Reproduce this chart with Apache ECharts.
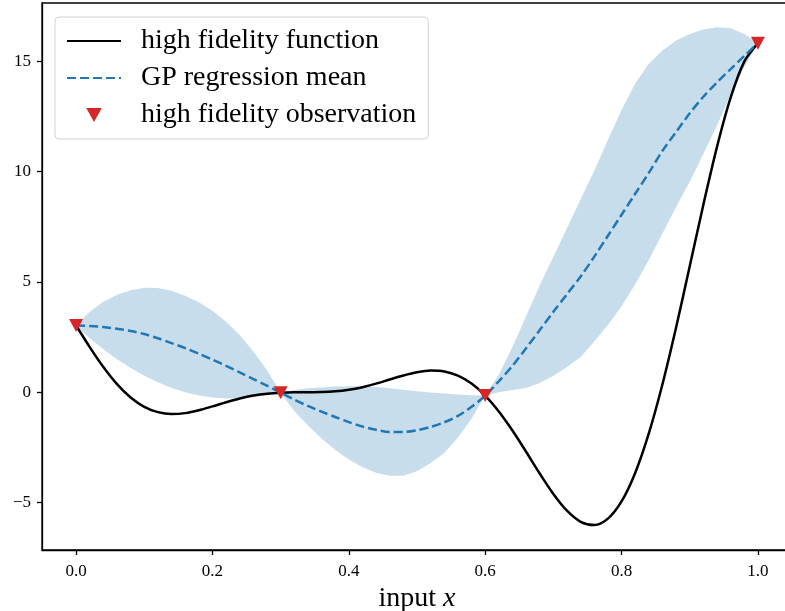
<!DOCTYPE html>
<html>
<head>
<meta charset="utf-8">
<script src="https://cdn.jsdelivr.net/npm/echarts@6/dist/echarts.min.js"></script>
<style>
html,body{margin:0;padding:0;background:#fff;}
#chart{width:785px;height:611px;}
</style>
</head>
<body>
<div id="chart"></div>
<script>
// x grid of the curves
const xs = [0.00,0.02,0.04,0.06,0.08,0.10,0.12,0.14,0.16,0.18,0.20,0.22,0.24,0.26,0.28,0.30,0.32,0.34,0.36,0.38,0.40,0.42,0.44,0.46,0.48,0.50,0.52,0.54,0.56,0.58,0.60,0.62,0.64,0.66,0.68,0.70,0.72,0.74,0.76,0.78,0.80,0.82,0.84,0.86,0.88,0.90,0.92,0.94,0.96,0.98,1.00];
// high fidelity function
const hfValues = [3.027,2.049,1.144,0.371,-0.234,-0.657,-0.900,-0.985,-0.944,-0.816,-0.640,-0.452,-0.282,-0.149,-0.061,-0.016,-0.001,0.000,0.008,0.042,0.115,0.233,0.392,0.577,0.761,0.909,0.984,0.945,0.757,0.396,-0.150,-0.870,-1.735,-2.697,-3.682,-4.606,-5.368,-5.871,-6.018,-5.729,-4.949,-3.656,-1.865,0.367,2.940,5.712,8.507,11.127,13.356,14.990,15.830];
// GP regression mean
const gpMean = [3.03,3.01,2.96,2.88,2.78,2.64,2.45,2.23,2.00,1.75,1.48,1.20,0.90,0.60,0.30,-0.02,-0.33,-0.62,-0.88,-1.12,-1.35,-1.55,-1.70,-1.80,-1.80,-1.72,-1.57,-1.36,-1.07,-0.66,-0.15,0.50,1.20,2.00,2.82,3.65,4.45,5.25,6.15,7.10,8.05,9.00,9.95,10.95,11.80,12.65,13.40,14.05,14.65,15.25,15.83];
// confidence band
const gpUpper = [3.03,3.65,4.10,4.42,4.63,4.74,4.73,4.60,4.38,4.08,3.70,3.20,2.60,1.85,1.00,-0.02,0.10,0.18,0.22,0.26,0.27,0.27,0.24,0.18,0.12,0.05,-0.01,-0.06,-0.10,-0.13,-0.15,0.80,2.05,3.45,4.85,6.15,7.45,8.75,10.05,11.45,12.80,14.00,14.90,15.50,15.95,16.25,16.45,16.55,16.50,16.25,15.83];
const gpLower = [3.03,2.45,1.95,1.50,1.10,0.75,0.45,0.20,0.00,-0.15,-0.24,-0.28,-0.27,-0.22,-0.13,-0.02,-0.85,-1.50,-2.10,-2.60,-3.05,-3.40,-3.65,-3.78,-3.78,-3.58,-3.20,-2.75,-2.05,-1.20,-0.15,0.00,0.10,0.20,0.42,0.75,1.15,1.60,2.30,3.05,3.90,4.90,6.00,7.20,8.40,9.55,10.80,12.10,13.50,14.75,15.83];
// observations
const obsX = [0.0,0.3,0.6,1.0];
const obsY = [3.03,-0.02,-0.15,15.83];
// ticks
const xTicks = [0,0.2,0.4,0.6,0.8,1.0];
const yTicks = [-5,0,5,10,15];

const FONT = '"Liberation Serif", "DejaVu Serif", serif';
const pair = (a,b) => a.map((v,i)=>[v,b[i]]);
const hidden = {color:'rgba(0,0,0,0)',borderWidth:0,borderColor:'rgba(0,0,0,0)'};

const chart = echarts.init(document.getElementById('chart'), null, {renderer:'canvas'});
chart.setOption({
  animation:false,
  backgroundColor:'#fff',
  grid:{left:42,right:-7,top:3,bottom:61,outerBoundsMode:'none',containLabel:false,show:true,borderColor:'#000',borderWidth:1.3,backgroundColor:'transparent'},
  legend:{
    orient:'vertical',left:55,top:17,
    data:[
      {name:'high fidelity function',itemStyle:hidden},
      {name:'GP regression mean',itemStyle:hidden},
      {name:'high fidelity observation',icon:'path://M0,0L20,0L10,18Z'}
    ],
    itemWidth:54,itemHeight:14,itemGap:9,symbolKeepAspect:true,
    padding:[10,12,10,11],
    backgroundColor:'rgba(255,255,255,0.8)',
    borderColor:'#d3d3d3',borderWidth:1,borderRadius:4,
    textStyle:{fontFamily:FONT,fontSize:28,color:'#000',lineHeight:27,padding:[0,0,0,15]}
  },
  xAxis:{
    type:'value',min:-0.05,max:1.05,
    name:'{a|input }{b|x}',nameLocation:'middle',nameGap:33,
    nameTextStyle:{rich:{a:{fontFamily:FONT,fontSize:28,color:'#000'},b:{fontFamily:FONT,fontSize:28,fontStyle:'italic',color:'#000'}}},
    axisLine:{show:true,onZero:false,lineStyle:{color:'#000',width:1.3}},
    axisTick:{show:true,length:5,lineStyle:{color:'#000',width:1.3},customValues:xTicks},
    axisLabel:{fontFamily:FONT,fontSize:17,color:'#000',margin:13,customValues:xTicks,formatter:v=>v.toFixed(1)},
    splitLine:{show:false}
  },
  yAxis:{
    type:'value',min:-7.15,max:17.65,
    axisLine:{show:true,onZero:false,lineStyle:{color:'#000',width:1.3}},
    axisTick:{show:true,length:5,lineStyle:{color:'#000',width:1.3},customValues:yTicks},
    axisLabel:{fontFamily:FONT,fontSize:17,color:'#000',margin:11,customValues:yTicks,formatter:v=>String(v).replace('-','\u2212')},
    splitLine:{show:false}
  },
  series:[
    {type:'custom',name:'band',silent:true,z:1,data:[0],
      renderItem:function(params,api){
        const pts=[];
        for(let i=0;i<xs.length;i++) pts.push(api.coord([xs[i],gpUpper[i]]));
        for(let i=xs.length-1;i>=0;i--) pts.push(api.coord([xs[i],gpLower[i]]));
        return {type:'polygon',shape:{points:pts},style:{fill:'rgba(31,119,180,0.25)',stroke:null}};
      }},
    {type:'line',name:'high fidelity function',data:pair(xs,hfValues),symbol:'none',smooth:0.3,lineStyle:{color:'#000',width:2.5},itemStyle:hidden,z:3},
    {type:'line',name:'GP regression mean',data:pair(xs,gpMean),symbol:'none',smooth:0.3,lineStyle:{color:'#1f77b4',width:2.5,type:[9,4]},itemStyle:hidden,z:4},
    {type:'scatter',name:'high fidelity observation',data:pair(obsX,obsY),symbol:'triangle',symbolRotate:180,symbolSize:[14,13],itemStyle:{color:'#d62728',opacity:1},z:5}
  ]
});
</script>
</body>
</html>
